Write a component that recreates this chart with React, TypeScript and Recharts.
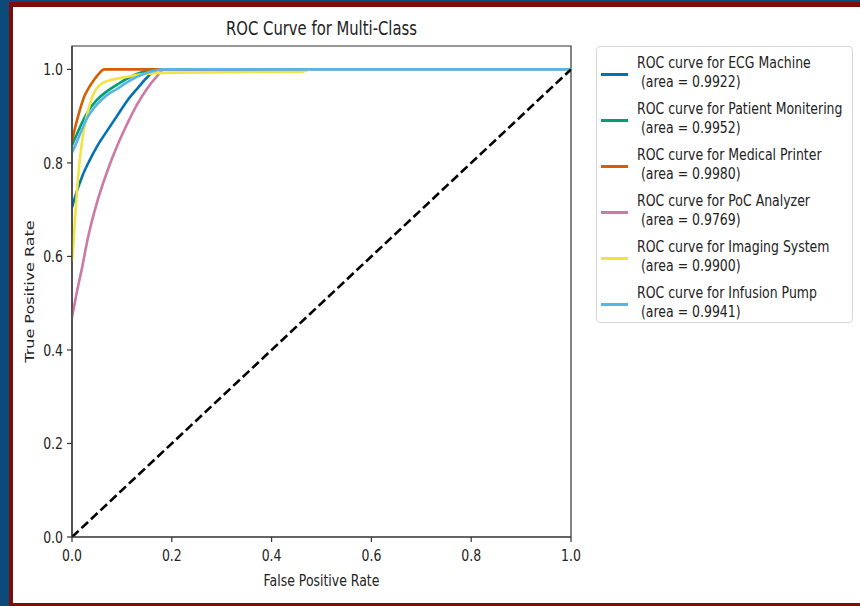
import React from 'react';
import { LineChart, Line, XAxis, YAxis, ReferenceArea, Legend } from 'recharts';

const FONT = '"DejaVu Sans", Verdana, sans-serif';
const SX = 0.78;

// ---- data ----
const fprECG = [0, 0.01, 0.02, 0.035, 0.05, 0.07, 0.09, 0.11, 0.13, 0.15, 0.17, 1];
const tprECG = [0.705, 0.74, 0.77, 0.805, 0.835, 0.868, 0.9, 0.932, 0.958, 0.982, 1.0, 1.0];

const fprPatient = [0, 0.01, 0.02, 0.035, 0.05, 0.07, 0.09, 0.11, 0.13, 0.15, 0.163, 1];
const tprPatient = [0.838, 0.862, 0.886, 0.915, 0.935, 0.953, 0.967, 0.98, 0.99, 0.997, 1.0, 1.0];

const fprPrinter = [0, 0.005, 0.012, 0.025, 0.035, 0.045, 0.055, 0.064, 1];
const tprPrinter = [0.845, 0.87, 0.899, 0.943, 0.963, 0.979, 0.992, 1.0, 1.0];

const fprPoC = [0, 0.01, 0.02, 0.032, 0.05, 0.072, 0.09, 0.11, 0.13, 0.15, 0.17, 0.185, 1];
const tprPoC = [0.47, 0.525, 0.575, 0.64, 0.715, 0.786, 0.835, 0.882, 0.924, 0.958, 0.985, 1.0, 1.0];

const fprImaging = [0, 0.003, 0.006, 0.01, 0.015, 0.02, 0.025, 0.032, 0.04, 0.05, 0.063, 0.08, 0.1, 0.12, 0.142, 0.2, 0.46, 0.48, 1];
const tprImaging = [0.59, 0.63, 0.68, 0.74, 0.8, 0.845, 0.878, 0.91, 0.94, 0.96, 0.972, 0.978, 0.982, 0.986, 0.99, 0.993, 0.995, 1.0, 1.0];

const fprInfusion = [0, 0.01, 0.02, 0.03, 0.05, 0.07, 0.09, 0.11, 0.13, 0.15, 0.17, 0.18, 1];
const tprInfusion = [0.822, 0.846, 0.872, 0.895, 0.925, 0.945, 0.958, 0.972, 0.984, 0.993, 0.998, 1.0, 1.0];

const fprDiag = [0, 1];
const tprDiag = [0, 1];

const seriesNames = ['ECG Machine', 'Patient Monitering', 'Medical Printer', 'PoC Analyzer', 'Imaging System', 'Infusion Pump'];
const seriesAreas = ['0.9922', '0.9952', '0.9980', '0.9769', '0.9900', '0.9941'];
const seriesColors = ['#0072b2', '#009e73', '#d55e00', '#cc79a7', '#f0e442', '#56b4e9'];

const xTicks = [0, 0.2, 0.4, 0.6, 0.8, 1.0];
const yTicks = [0, 0.2, 0.4, 0.6, 0.8, 1.0];

const toPoints = (f: number[], t: number[]) => f.map((v, i) => ({ fpr: v, tpr: t[i] }));

const seriesData = [
  toPoints(fprECG, tprECG),
  toPoints(fprPatient, tprPatient),
  toPoints(fprPrinter, tprPrinter),
  toPoints(fprPoC, tprPoC),
  toPoints(fprImaging, tprImaging),
  toPoints(fprInfusion, tprInfusion),
];
const diagData = toPoints(fprDiag, tprDiag);

const XTick = (props: any) => {
  const { x, y, payload } = props;
  return (
    <g transform={`translate(${x},${y})`}>
      <text transform={`scale(${SX},1)`} textAnchor="middle" dy="0.71em" fontSize={16} fill="#222" fontFamily={FONT}>
        {Number(payload.value).toFixed(1)}
      </text>
    </g>
  );
};

const YTick = (props: any) => {
  const { x, y, payload } = props;
  return (
    <g transform={`translate(${x},${y})`}>
      <text transform={`scale(${SX},1)`} textAnchor="end" dy="0.355em" fontSize={16} fill="#222" fontFamily={FONT}>
        {Number(payload.value).toFixed(1)}
      </text>
    </g>
  );
};

const LegendBox = () => (
  <div
    style={{
      width: 257,
      height: 277,
      boxSizing: 'border-box',
      border: '1px solid #d6d6d6',
      borderRadius: 4,
      background: '#fff',
      position: 'relative',
      fontFamily: FONT,
      fontSize: 16,
      color: '#222',
    }}
  >
    {seriesNames.map((name, i) => (
      <div key={name} style={{ position: 'absolute', left: 0, top: 5.5 + 46 * i, width: 255, height: 40 }}>
        <div
          style={{
            position: 'absolute',
            left: 4,
            top: 20,
            width: 27,
            height: 3,
            background: seriesColors[i],
          }}
        />
        <div
          style={{
            position: 'absolute',
            left: 40,
            top: 0,
            lineHeight: '19px',
            whiteSpace: 'pre',
            transform: `scaleX(${SX})`,
            transformOrigin: 'left top',
          }}
        >
          {`ROC curve for ${name}\n (area = ${seriesAreas[i]})`}
        </div>
      </div>
    ))}
  </div>
);

export default function App() {
  return (
    <div style={{ position: 'fixed', left: 0, top: 0, width: 860, height: 606, background: '#0b4a78', overflow: 'hidden' }}>
      <div style={{ position: 'absolute', left: 9, top: 2, right: 0, bottom: 0, background: '#7d0c0c' }} />
      <div style={{ position: 'absolute', left: 13, top: 7, right: 0, bottom: 3, background: '#ffffff' }} />
      <div style={{ position: 'absolute', left: 0, top: 0 }}>
        <LineChart width={860} height={606} margin={{ top: 46, right: 289, bottom: 39, left: 12 }}>
          <XAxis
            dataKey="fpr"
            type="number"
            domain={[0, 1]}
            ticks={xTicks}
            allowDataOverflow
            height={30}
            tickSize={5}
            tickMargin={8}
            tick={<XTick />}
            axisLine={{ stroke: '#333', strokeWidth: 1.2 }}
            tickLine={{ stroke: '#333', strokeWidth: 1.2 }}
          />
          <YAxis
            type="number"
            domain={[0, 1.05]}
            ticks={yTicks}
            allowDataOverflow
            width={60}
            tickSize={5}
            tickMargin={4}
            tick={<YTick />}
            axisLine={{ stroke: '#333', strokeWidth: 1.2 }}
            tickLine={{ stroke: '#333', strokeWidth: 1.2 }}
          />
          <ReferenceArea x1={0} x2={1} y1={0} y2={1.05} fill="none" stroke="#333" strokeWidth={1.2} ifOverflow="visible" />
          {seriesData.map((d, i) => (
            <Line
              key={seriesNames[i]}
              data={d}
              dataKey="tpr"
              name={seriesNames[i]}
              type="monotone"
              stroke={seriesColors[i]}
              strokeWidth={2.6}
              dot={false}
              activeDot={false}
              isAnimationActive={false}
            />
          ))}
          <Line
            data={diagData}
            dataKey="tpr"
            name="diag"
            type="linear"
            stroke="#000"
            strokeWidth={2.6}
            strokeDasharray="9 4"
            dot={false}
            activeDot={false}
            legendType="none"
            isAnimationActive={false}
          />
          <Legend
            layout="vertical"
            align="center"
            verticalAlign="middle"
            content={() => <LegendBox />}
            wrapperStyle={{ left: 596, top: 46, width: 257, height: 277 }}
          />
          <text
            transform={`translate(321.5,35) scale(${SX},1)`}
            textAnchor="middle"
            fontSize={19}
            fill="#222"
            fontFamily={FONT}
          >
            ROC Curve for Multi-Class
          </text>
          <text
            transform={`translate(321.5,586) scale(${SX},1)`}
            textAnchor="middle"
            fontSize={16}
            fill="#222"
            fontFamily={FONT}
          >
            False Positive Rate
          </text>
          <text
            transform={`translate(30,291.5) scale(${SX},1) rotate(-90)`}
            textAnchor="middle"
            dominantBaseline="central"
            fontSize={16}
            fill="#222"
            fontFamily={FONT}
          >
            True Positive Rate
          </text>
        </LineChart>
      </div>
    </div>
  );
}
